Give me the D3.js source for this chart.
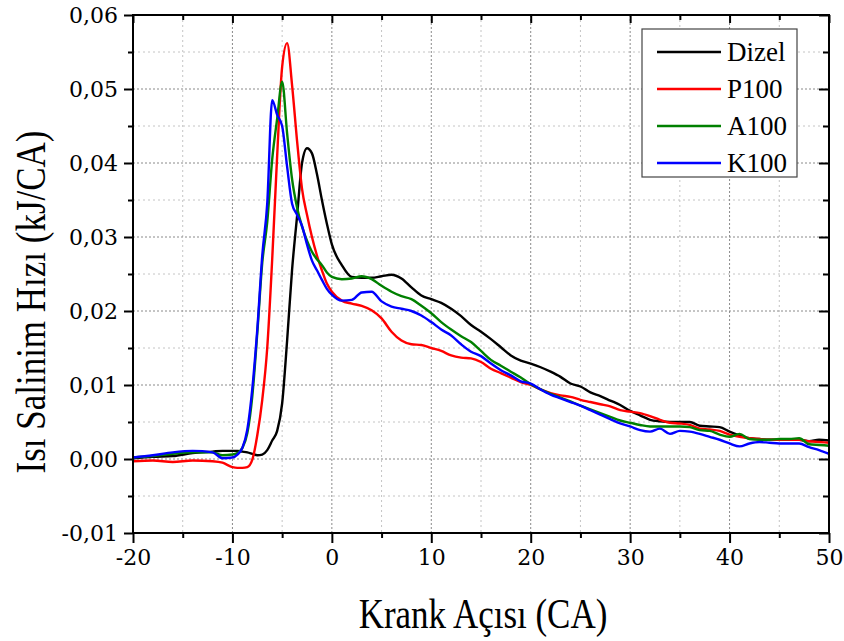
<!DOCTYPE html>
<html>
<head>
<meta charset="utf-8">
<script src="https://cdn.jsdelivr.net/npm/d3@7"></script>
<style>
  html, body { margin: 0; padding: 0; background: #fff; }
  svg { display: block; }
</style>
</head>
<body>
<svg id="chart" width="844" height="641"></svg>
<script>
// ---- Data ----
const angle = [-20, -18, -16, -14, -12, -11,
  -10, -9.5, -9, -8.5, -8, -7.5, -7, -6.5, -6, -5.5, -5, -4.5, -4, -3.5, -3, -2.5, -2, -1.5, -1, -0.5, 0,
  1, 2, 3, 4, 5, 6, 7, 8, 9, 10, 11, 12, 13, 14, 15, 16, 17, 18, 19, 20,
  21, 22, 23, 24, 25, 26, 27, 28, 29, 30, 31, 32, 33, 34, 35, 36, 37, 38, 39, 40,
  41, 42, 43, 44, 45, 46, 47, 48, 49, 50];

const dizel = [0.0001, 0.0003, 0.0004, 0.0008, 0.0010, 0.0011,
  0.0011, 0.0011, 0.0010, 0.0009, 0.0007, 0.0005, 0.0006, 0.0012, 0.0025, 0.0038, 0.0075, 0.0160, 0.0256, 0.0328, 0.0400, 0.0420, 0.0413, 0.0385, 0.0350, 0.0318, 0.0290,
  0.0262, 0.0246, 0.0245, 0.0245, 0.0247, 0.0249, 0.0244, 0.0232, 0.0221, 0.0216, 0.0211, 0.0203, 0.0193, 0.0181, 0.0172, 0.0162, 0.0151, 0.0140, 0.0133, 0.0129,
  0.0124, 0.0118, 0.0111, 0.0102, 0.0098, 0.0090, 0.0085, 0.0079, 0.0073, 0.0065, 0.0059, 0.0053, 0.0051, 0.0050, 0.0050, 0.0050, 0.0045, 0.0044, 0.0043, 0.0037,
  0.0032, 0.0028, 0.0027, 0.0026, 0.0026, 0.0026, 0.0026, 0.0024, 0.0026, 0.0025];

const p100 = [-0.0003, -0.0002, -0.0004, -0.0002, -0.0003, -0.0005,
  -0.0011, -0.0012, -0.0012, -0.0011, -0.0001, 0.0032, 0.0080, 0.0150, 0.0270, 0.0410, 0.0530, 0.0562, 0.0505, 0.0430, 0.0365, 0.0330, 0.0300, 0.0275, 0.0255, 0.0237, 0.0226,
  0.0214, 0.0210, 0.0207, 0.0201, 0.0190, 0.0172, 0.0160, 0.0155, 0.0154, 0.0150, 0.0146, 0.0140, 0.0137, 0.0136, 0.0131, 0.0122, 0.0116, 0.0110, 0.0104, 0.0100,
  0.0094, 0.0089, 0.0086, 0.0084, 0.0080, 0.0077, 0.0074, 0.0071, 0.0066, 0.0064, 0.0062, 0.0058, 0.0053, 0.0049, 0.0048, 0.0046, 0.0041, 0.0040, 0.0038, 0.0033,
  0.0030, 0.0028, 0.0027, 0.0026, 0.0026, 0.0026, 0.0026, 0.0024, 0.0023, 0.0022];

const a100 = [0.0002, 0.0004, 0.0007, 0.0009, 0.0009, 0.0005,
  0.0006, 0.0008, 0.0015, 0.0035, 0.0085, 0.0170, 0.0265, 0.0320, 0.0405, 0.0460, 0.0510, 0.0440, 0.0378, 0.0340, 0.0314, 0.0295, 0.0280, 0.0270, 0.0262, 0.0252, 0.0246,
  0.0243, 0.0244, 0.0247, 0.0243, 0.0234, 0.0226, 0.0220, 0.0216, 0.0207, 0.0197, 0.0185, 0.0175, 0.0166, 0.0158, 0.0146, 0.0134, 0.0126, 0.0118, 0.0110, 0.0101,
  0.0094, 0.0088, 0.0083, 0.0078, 0.0072, 0.0067, 0.0062, 0.0057, 0.0052, 0.0049, 0.0046, 0.0044, 0.0044, 0.0044, 0.0044, 0.0043, 0.0039, 0.0038, 0.0033, 0.0030,
  0.0034, 0.0027, 0.0026, 0.0026, 0.0027, 0.0027, 0.0028, 0.0020, 0.0019, 0.0018];

const k100 = [0.0002, 0.0005, 0.0009, 0.0011, 0.0009, 0.0001,
  0.0002, 0.0006, 0.0015, 0.0040, 0.0095, 0.0175, 0.0275, 0.0345, 0.0485, 0.0465, 0.0450, 0.0395, 0.0345, 0.0330, 0.0315, 0.0290, 0.0268, 0.0255, 0.0242, 0.0230, 0.0222,
  0.0214, 0.0215, 0.0225, 0.0226, 0.0213, 0.0206, 0.0203, 0.0200, 0.0194, 0.0185, 0.0175, 0.0167, 0.0155, 0.0145, 0.0139, 0.0129, 0.0120, 0.0113, 0.0105, 0.0102,
  0.0094, 0.0087, 0.0082, 0.0077, 0.0072, 0.0066, 0.0060, 0.0054, 0.0048, 0.0044, 0.0039, 0.0037, 0.0041, 0.0034, 0.0038, 0.0037, 0.0034, 0.0030, 0.0026, 0.0021,
  0.0017, 0.0021, 0.0023, 0.0022, 0.0021, 0.0021, 0.0021, 0.0016, 0.0012, 0.0007];

const seriesNames = ["Dizel", "P100", "A100", "K100"];
const seriesColors = ["#000000", "#ff0000", "#008000", "#0000ff"];
const seriesValues = [dizel, p100, a100, k100];

const xMajorTicks = [-20, -10, 0, 10, 20, 30, 40, 50];
const xMinorTicks = [-15, -5, 5, 15, 25, 35, 45];
const yMajorTicks = [-0.01, 0, 0.01, 0.02, 0.03, 0.04, 0.05, 0.06];
const yMinorTicks = [-0.005, 0.005, 0.015, 0.025, 0.035, 0.045, 0.055];

const xTitle = "Krank Açısı (CA)";
const yTitle = "Isı Salinim Hızı (kJ/CA)";

// ---- Layout ----
const L = 133, R = 829, T = 15, B = 533;
const svg = d3.select("#chart");
const x = d3.scaleLinear().domain([-20, 50]).range([L, R]);
const y = d3.scaleLinear().domain([-0.01, 0.06]).range([B, T]);
const fmt = v => d3.format(".2f")(v).replace(".", ",").replace("−", "-");
const serif = "'Liberation Serif', 'Times New Roman', serif";
const tickFont = "'DejaVu Serif', serif";

// grid
const grid = svg.append("g");
grid.selectAll(".gxm").data(xMinorTicks).join("line")
  .attr("x1", d => x(d)).attr("x2", d => x(d)).attr("y1", T).attr("y2", B)
  .attr("stroke", "#c4c4c4").attr("stroke-width", 1).attr("stroke-dasharray", "2,3");
grid.selectAll(".gym").data(yMinorTicks).join("line")
  .attr("y1", d => y(d)).attr("y2", d => y(d)).attr("x1", L).attr("x2", R)
  .attr("stroke", "#c4c4c4").attr("stroke-width", 1).attr("stroke-dasharray", "2,3");
grid.selectAll(".gx").data(xMajorTicks).join("line")
  .attr("x1", d => x(d)).attr("x2", d => x(d)).attr("y1", T).attr("y2", B)
  .attr("stroke", "#8a8a8a").attr("stroke-width", 1).attr("stroke-dasharray", "2,2");
grid.selectAll(".gy").data(yMajorTicks).join("line")
  .attr("y1", d => y(d)).attr("y2", d => y(d)).attr("x1", L).attr("x2", R)
  .attr("stroke", "#8a8a8a").attr("stroke-width", 1).attr("stroke-dasharray", "2,2");

// data lines
svg.append("clipPath").attr("id", "clip").append("rect")
  .attr("x", L).attr("y", T).attr("width", R - L).attr("height", B - T);
const lines = svg.append("g").attr("clip-path", "url(#clip)");
seriesValues.forEach((vals, i) => {
  const pts = angle.map((a, j) => [a, vals[j]]);
  lines.append("path")
    .datum(pts)
    .attr("fill", "none")
    .attr("stroke", seriesColors[i])
    .attr("stroke-width", 2.4)
    .attr("stroke-linejoin", "round")
    .attr("d", d3.line().x(d => x(d[0])).y(d => y(d[1])).curve(d3.curveMonotoneX));
});

// axes
const axStyle = g => {
  g.select(".domain").remove();
  g.selectAll("line").attr("stroke", "#000").attr("stroke-width", 2);
};
// bottom
svg.append("g").attr("transform", `translate(0,${B})`)
  .call(d3.axisBottom(x).tickValues(xMajorTicks).tickSize(10).tickPadding(6).tickFormat(d => d3.format("d")(d).replace("−", "-")))
  .call(axStyle)
  .call(g => g.selectAll("text").attr("font-family", tickFont).attr("font-size", 22).attr("fill", "#000"));
svg.append("g").attr("transform", `translate(0,${B})`)
  .call(d3.axisBottom(x).tickValues(xMinorTicks).tickSize(5).tickFormat(""))
  .call(axStyle);
// top (inward)
svg.append("g").attr("transform", `translate(0,${T})`)
  .call(d3.axisBottom(x).tickValues(xMajorTicks).tickSize(8).tickFormat(""))
  .call(axStyle);
svg.append("g").attr("transform", `translate(0,${T})`)
  .call(d3.axisBottom(x).tickValues(xMinorTicks).tickSize(5).tickFormat(""))
  .call(axStyle);
// left
svg.append("g").attr("transform", `translate(${L},0)`)
  .call(d3.axisLeft(y).tickValues(yMajorTicks).tickSize(9).tickPadding(6).tickFormat(fmt))
  .call(axStyle)
  .call(g => g.selectAll("text").attr("font-family", tickFont).attr("font-size", 22).attr("fill", "#000"));
svg.append("g").attr("transform", `translate(${L},0)`)
  .call(d3.axisLeft(y).tickValues(yMinorTicks).tickSize(5).tickFormat(""))
  .call(axStyle);
// right (inward)
svg.append("g").attr("transform", `translate(${R},0)`)
  .call(d3.axisLeft(y).tickValues(yMajorTicks).tickSize(10).tickFormat(""))
  .call(axStyle);
svg.append("g").attr("transform", `translate(${R},0)`)
  .call(d3.axisLeft(y).tickValues(yMinorTicks).tickSize(6).tickFormat(""))
  .call(axStyle);

// frame
svg.append("rect").attr("x", L).attr("y", T).attr("width", R - L).attr("height", B - T)
  .attr("fill", "none").attr("stroke", "#000").attr("stroke-width", 2);

// axis titles
svg.append("text")
  .attr("transform", `translate(${(L + R) / 2 + 2},628) scale(1,1.2)`)
  .attr("text-anchor", "middle")
  .attr("font-family", serif).attr("font-size", 35).attr("fill", "#000")
  .text(xTitle);
svg.append("text")
  .attr("transform", `translate(45,302) rotate(-90) scale(1,1.2)`)
  .attr("text-anchor", "middle")
  .attr("font-family", serif).attr("font-size", 35).attr("fill", "#000")
  .text(yTitle);

// legend
const lg = svg.append("g");
lg.append("rect").attr("x", 642).attr("y", 29).attr("width", 155).attr("height", 148)
  .attr("fill", "#fff").attr("stroke", "#444").attr("stroke-width", 1.2);
seriesNames.forEach((name, i) => {
  const yy = 52 + i * 37;
  lg.append("line").attr("x1", 657).attr("x2", 721).attr("y1", yy).attr("y2", yy)
    .attr("stroke", seriesColors[i]).attr("stroke-width", 2.4);
  lg.append("text").attr("x", 727).attr("y", yy + 9)
    .attr("font-family", serif).attr("font-size", 27).attr("fill", "#000")
    .text(name);
});
</script>
</body>
</html>
